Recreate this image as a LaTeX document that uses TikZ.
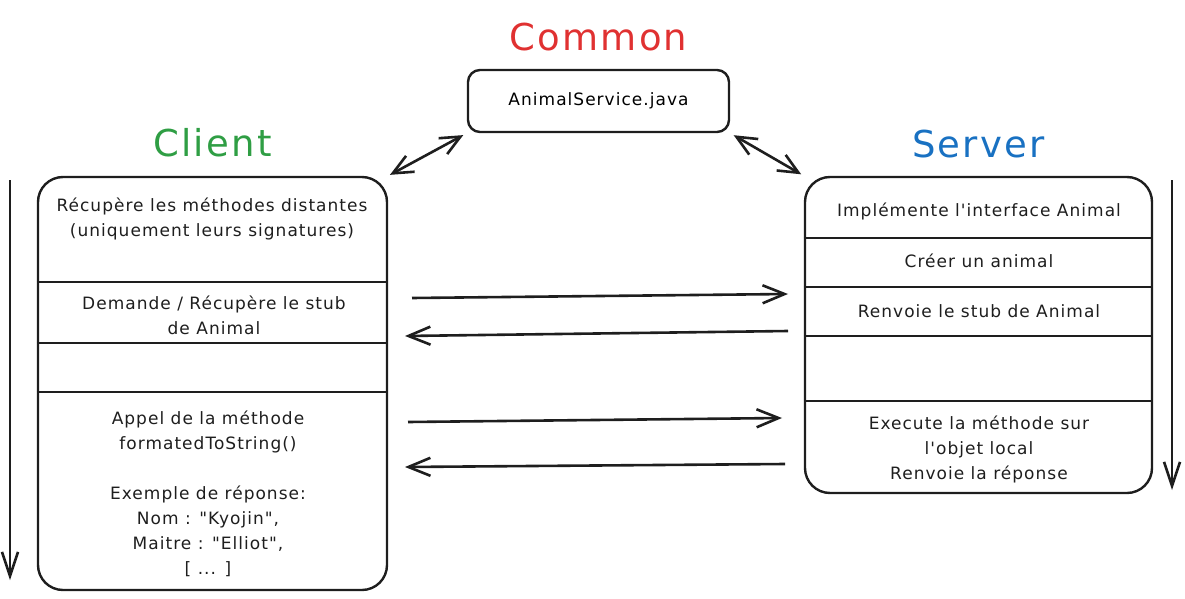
\documentclass[tikz,border=0pt]{standalone}
\usepackage{fontspec}
\setmainfont{DejaVu Sans}
\newfontfamily\handfont[LetterSpace=6]{DejaVu Sans}
\usepackage{tikz}
\usetikzlibrary{positioning,arrows.meta}
\definecolor{colorclient}{RGB}{47 ,158,68 }
\definecolor{colorcommon}{RGB}{224,49 ,49 }
\definecolor{colorserver}{RGB}{25 ,113,194}
\definecolor{colorline}  {RGB}{30 ,30 ,30 }

\begin{document}
\begin{tikzpicture}[
    x=1pt, y=-1pt,
    font={\handfont\fontsize{17}{25}\selectfont},
    title/.style={font={\handfont\fontsize{37}{40}\selectfont},inner sep=0pt},
    txt/.style={text=colorline,align=center,inner sep=0pt},
    lane/.style={draw=colorline,line width=2.4pt,rounded corners=25pt},
    file/.style={draw=colorline,line width=2.4pt,rounded corners=12pt},
    rule/.style={draw=colorline,line width=2.4pt},
    msg/.style={draw=colorline,line width=2.6pt,-{Straight Barb[length=22pt,width=18pt,line width=2.6pt]}},
    link/.style={draw=colorline,line width=2.6pt,{Straight Barb[length=20pt,width=18pt,line width=2.6pt]}-{Straight Barb[length=20pt,width=18pt,line width=2.6pt]}},
    timeline/.style={draw=colorline,line width=2.6pt,-{Straight Barb[length=24pt,width=16pt,line width=2.6pt]}},
]
    \useasboundingbox (0,0) rectangle (1185,599);

    % Boxes
    \node[file,minimum width=261pt,minimum height=62pt] (common) at (598.5,101) {AnimalService.java};
    \node[lane,minimum width=349pt,minimum height=413pt] (client) at (212.5,383.5) {};
    \node[lane,minimum width=347pt,minimum height=316pt] (server) at (978.5,335) {};

    % Titles
    \node[title,text=colorcommon,above=18pt of common] (commontitle) {Common};
    \node[title,text=colorclient,above=19pt of client] (clienttitle) {Client};
    \node[title,text=colorserver,above=18pt of server] (servertitle) {Server};

    % Dividers
    \foreach \y in {282,343,392}
        \draw[rule] (client.west |- 0,\y) -- (client.east |- 0,\y);
    \foreach \y in {238,287,336,401}
        \draw[rule] (server.west |- 0,\y) -- (server.east |- 0,\y);

    % Client text
    \node[txt] (fetch) at (212,219) {Récupère les méthodes distantes\\(uniquement leurs signatures)};
    \node[txt] (stub)  at (214,315) {Demande / Récupère le stub\\de Animal};
    \node[txt] (call)  at (208,494) {Appel de la méthode\\formatedToString()\\[25pt]Exemple de réponse:\\Nom : "Kyojin",\\Maitre : "Elliot",\\{[} ... ]};

    % Server text
    \node[txt] (impl)   at (979,211) {Implémente l'interface Animal};
    \node[txt] (create) at (979,261) {Créer un animal};
    \node[txt] (reply)  at (979,311) {Renvoie le stub de Animal};
    \node[txt] (exec)   at (979,449) {Execute la méthode sur\\l'objet local\\Renvoie la réponse};

    % Arrow ends
    \coordinate (askfrom)  at (412,298);
    \coordinate (askto)    at (788,294);
    \coordinate (backfrom) at (788,331);
    \coordinate (backto)   at (405,336);
    \coordinate (callfrom) at (408,422);
    \coordinate (callto)   at (782,418);
    \coordinate (resfrom)  at (785,464);
    \coordinate (resto)    at (405,467);
    \coordinate (ctop) at (10,180);
    \coordinate (cend) at (10,580);
    \coordinate (stop) at (1172,180);
    \coordinate (send) at (1172,490);

    % Arrows
    \draw[link,shorten <=2pt,shorten >=4pt] (client.north east) -- (common.south west);
    \draw[link,shorten <=4pt,shorten >=3pt] (common.south east) -- (server.north west);
    \draw[msg] (askfrom)  -- (askto);
    \draw[msg] (backfrom) -- (backto);
    \draw[msg] (callfrom) -- (callto);
    \draw[msg] (resfrom)  -- (resto);
    \draw[timeline] (ctop) -- (cend);
    \draw[timeline] (stop) -- (send);

\end{tikzpicture}
\end{document}
